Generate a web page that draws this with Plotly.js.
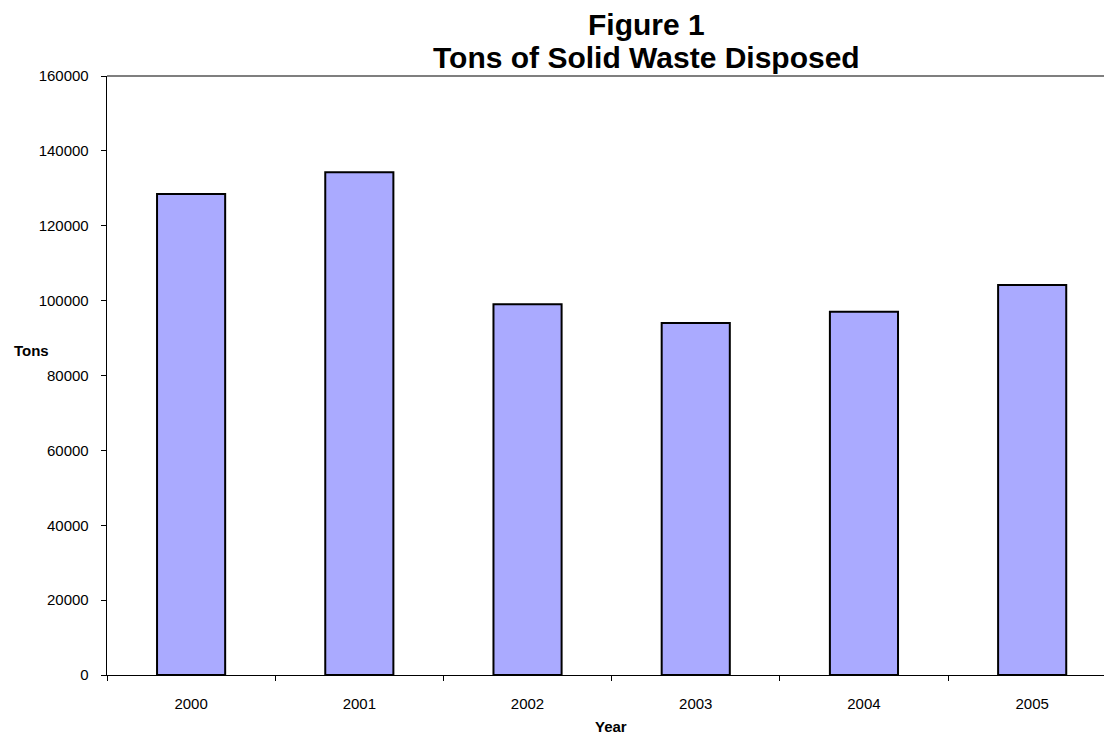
<!DOCTYPE html>
<html>
<head>
<meta charset="utf-8">
<script src="https://cdn.plot.ly/plotly-3.0.1.min.js"></script>
<style>html,body{margin:0;padding:0;background:#fff;overflow:hidden}</style>
</head>
<body>
<div id="chart" style="width:1104px;height:734px"></div>
<script>
var years = ['2000', '2001', '2002', '2003', '2004', '2005'];
var tons = [128500, 134300, 99000, 94000, 97000, 104200];
var yTicks = [0, 20000, 40000, 60000, 80000, 100000, 120000, 140000, 160000];

var font = 'Liberation Sans, Arial, sans-serif';

var trace = {
  type: 'bar',
  x: years,
  y: tons,
  marker: {color: '#AAAAFF', line: {color: '#000000', width: 2}},
  hoverinfo: 'x+y'
};

var layout = {
  width: 1104,
  height: 734,
  margin: {l: 107, r: 0, t: 75.5, b: 58.5},
  paper_bgcolor: '#ffffff',
  plot_bgcolor: '#ffffff',
  showlegend: false,
  bargap: 0.595,
  font: {family: font, color: '#000000', size: 15},
  xaxis: {
    type: 'category',
    range: [-0.5, 5.427],
    showgrid: false,
    zeroline: false,
    showline: true,
    linecolor: '#000000',
    linewidth: 1.3,
    ticks: 'outside',
    tickson: 'boundaries',
    ticklen: 5,
    tickcolor: '#000000',
    tickwidth: 1,
    ticklabelstandoff: 15,
    tickfont: {family: font, size: 15, color: '#000000'}
  },
  yaxis: {
    range: [0, 160000],
    tickvals: yTicks,
    ticktext: yTicks.map(String),
    showgrid: false,
    zeroline: false,
    showline: true,
    linecolor: '#000000',
    linewidth: 1.3,
    ticks: 'outside',
    ticklen: 5,
    tickcolor: '#000000',
    tickwidth: 1,
    ticklabelstandoff: 9,
    tickfont: {family: font, size: 15, color: '#000000'}
  },
  shapes: [{
    type: 'line', xref: 'paper', yref: 'paper',
    x0: 0, x1: 1, y0: 1, y1: 1,
    line: {color: '#555555', width: 1.6}
  }],
  annotations: [
    {text: '<b>Figure 1</b>', xref: 'paper', yref: 'paper', x: 0.541, y: 1.0865,
     xanchor: 'center', yanchor: 'middle', showarrow: false,
     font: {family: font, size: 30, color: '#000000'}},
    {text: '<b>Tons of Solid Waste Disposed</b>', xref: 'paper', yref: 'paper', x: 0.541, y: 1.031,
     xanchor: 'center', yanchor: 'middle', showarrow: false,
     font: {family: font, size: 30, color: '#000000'}},
    {text: '<b>Tons</b>', xref: 'paper', yref: 'paper', x: -0.0955, y: 0.541,
     xanchor: 'left', yanchor: 'middle', showarrow: false,
     font: {family: font, size: 15, color: '#000000'}},
    {text: '<b>Year</b>', xref: 'paper', yref: 'paper', x: 0.506, y: -0.0858,
     xanchor: 'center', yanchor: 'middle', showarrow: false,
     font: {family: font, size: 15, color: '#000000'}}
  ]
};

Plotly.newPlot('chart', [trace], layout, {displayModeBar: false, staticPlot: true});
</script>
</body>
</html>
